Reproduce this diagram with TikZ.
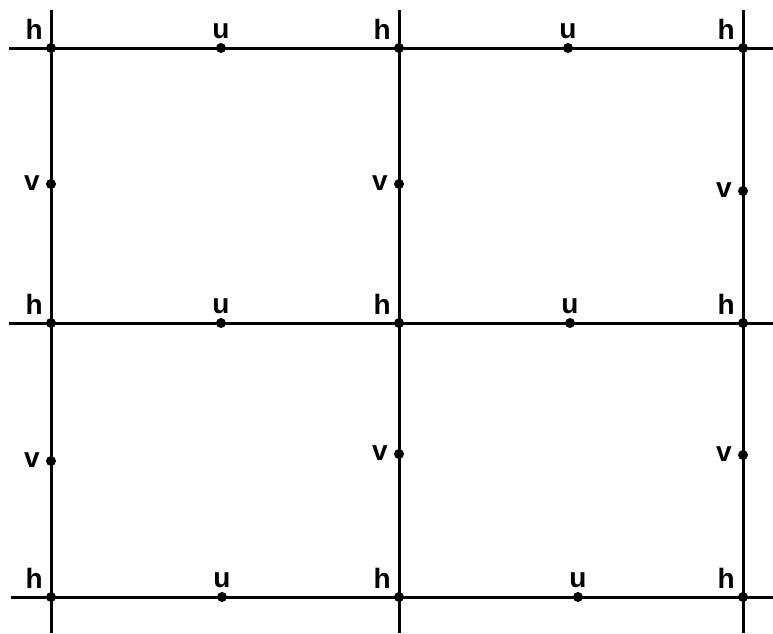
\documentclass[tikz,border=0pt]{standalone}
\usepackage{fontspec}
\setmainfont{Liberation Sans}
\begin{document}
\begin{tikzpicture}[x=1pt,y=-1pt,
  gridline/.style={line width=3pt},
  dotpt/.style={circle,fill=black,inner sep=0pt,minimum size=10pt},
  lbl/.style={font=\fontsize{28}{28}\selectfont\bfseries,inner sep=0pt},
]
\useasboundingbox (0,0) rectangle (773,633);
% frame coordinates
\coordinate (tA) at (51,10);  \coordinate (bA) at (51,633);
\coordinate (tB) at (399,10); \coordinate (bB) at (399,633);
\coordinate (tC) at (743,10); \coordinate (bC) at (743,633);
\coordinate (l1) at (9,48);   \coordinate (r1) at (773,48);
\coordinate (l2) at (9,323);  \coordinate (r2) at (773,323);
\coordinate (l3) at (11,597); \coordinate (r3) at (773,597);
\draw[gridline] (tA) -- (bA);
\draw[gridline] (tB) -- (bB);
\draw[gridline] (tC) -- (bC);
\draw[gridline] (l1) -- (r1);
\draw[gridline] (l2) -- (r2);
\draw[gridline] (l3) -- (r3);
% h points
\foreach \n/\x/\y in {h11/51/48,h12/399/48,h13/743/48,h21/51/323,h22/399/323,h23/743/323,h31/51/597,h32/399/597,h33/743/597}{
  \node[dotpt] (\n) at (\x,\y) {};
  \node[lbl,anchor=base east] (\n l) at ([xshift=-8pt,yshift=9pt]\n.center) {h};
}
% u points
\foreach \n/\x/\y in {u11/221/48,u12/568/48,u21/221/323,u22/570/323,u31/222/597,u32/578/597}{
  \node[dotpt] (\n) at (\x,\y) {};
  \node[lbl,anchor=base] (\n l) at ([yshift=10pt]\n.center) {u};
}
% v points
\foreach \n/\x/\y in {v11/51/184,v12/399/184,v13/743/191,v21/51/461,v22/399/454,v23/743/455}{
  \node[dotpt] (\n) at (\x,\y) {};
  \node[lbl,anchor=east] (\n l) at ([xshift=-11pt,yshift=1pt]\n.center) {v};
}
\end{tikzpicture}
\end{document}
